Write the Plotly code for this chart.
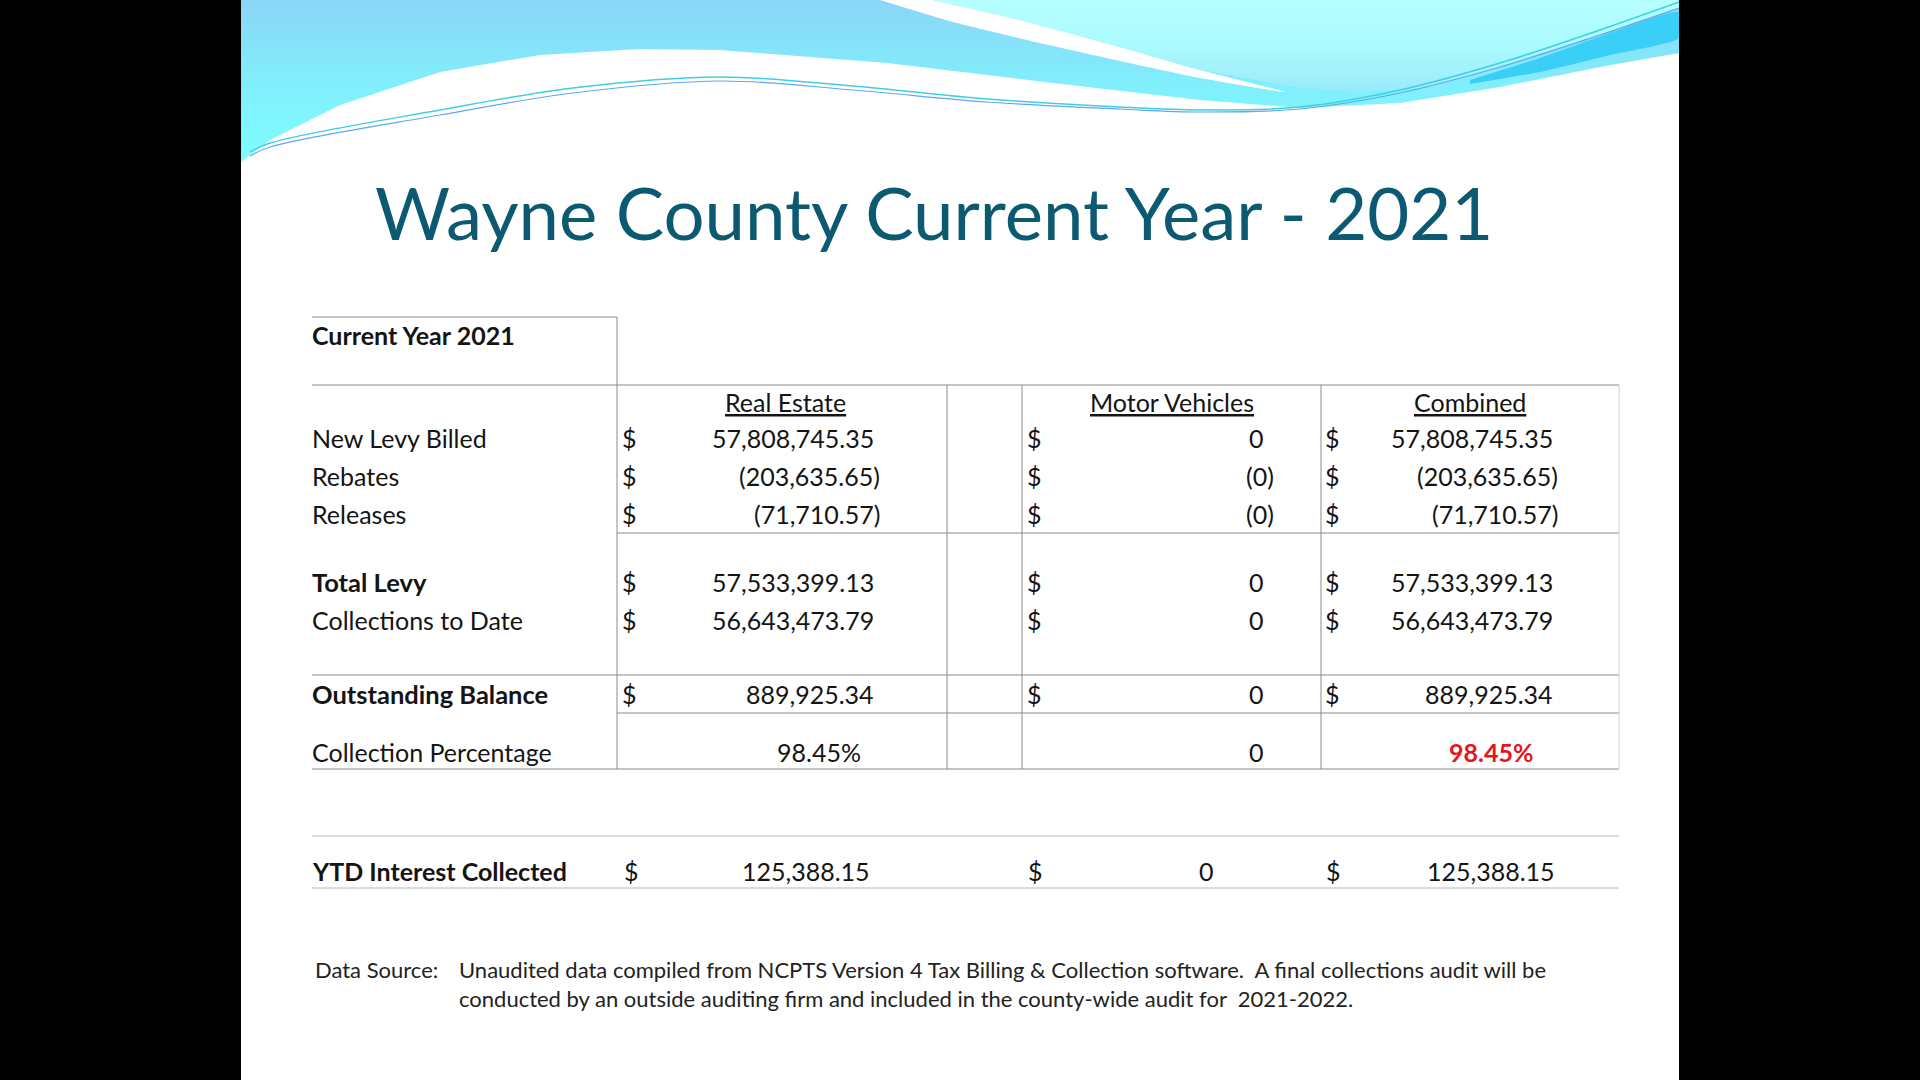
import plotly.graph_objects as go

# ---------------- data ----------------
title_text = "Wayne County Current Year - 2021"
corner_label = "Current Year 2021"
column_headers = ["Real Estate", "Motor Vehicles", "Combined"]
row_labels = ["New Levy Billed", "Rebates", "Releases", "Total Levy",
              "Collections to Date", "Outstanding Balance"]
row_bold = [False, False, False, True, False, True]
real_estate = [57808745.35, -203635.65, -71710.57, 57533399.13, 56643473.79, 889925.34]
motor_vehicles_text = ["0", "(0)", "(0)", "0", "0", "0"]
combined = [57808745.35, -203635.65, -71710.57, 57533399.13, 56643473.79, 889925.34]
pct_label = "Collection Percentage"
collection_pct = [98.45, 0, 98.45]          # real estate, motor vehicles, combined
ytd_label = "YTD Interest Collected"
ytd_interest = [125388.15, 0, 125388.15]    # real estate, motor vehicles, combined
source_label = "Data Source:"
source_lines = ["Unaudited data compiled from NCPTS Version 4 Tax Billing & Collection software.  A final collections audit will be",
                "conducted by an outside auditing firm and included in the county-wide audit for  2021-2022."]

# ---------------- layout constants (pixels) ----------------
SL, SR = 241, 1679           # slide left/right
FONT = "Lato"
TXT = "#141414"
GRID = "#8a8a8a"
row_y = [438, 476, 514, 582, 620, 694]
pct_y = 752
ytd_y = 871
header_y = 402
label_x = 310
dollar_x = [620, 1025, 1323]
num_right = [876, 1266, 1555]
paren_right = [882, 1276, 1560]


def money(v):
    if v < 0:
        return f"({abs(v):,.2f})"
    return f"{v:,.2f}"


fig = go.Figure()

# ---------------- decorative wave ----------------
main_x = [SL, SR, SR, 1600, 1500, 1400, 1300, 1200, 1053, 887, 720, 640, 540, 440, 340, 270, SL]
main_y = [0, 0, 53, 67, 87, 103, 108, 100, 83, 63, 50, 49, 55, 72, 105, 140, 162]
fig.add_trace(go.Scatter(x=main_x, y=main_y, fill="toself", mode="lines",
                         line=dict(width=0, color="#7ffcff"),
                         fillgradient=dict(type="vertical",
                                           colorscale=[[0, "#7ffdff"], [0.45, "#80f0fc"], [1, "#8bd5f7"]]),
                         hoverinfo="skip", showlegend=False))
swoosh_x = [880, 953, 1053, 1200, 1285, 1200, 1120, 1020, 933]
swoosh_y = [0, 22, 46, 78, 92, 70, 47, 20, 0]
fig.add_trace(go.Scatter(x=swoosh_x, y=swoosh_y, fill="toself", mode="lines",
                         line=dict(width=0, color="white", shape="spline", smoothing=0.6),
                         fillcolor="white", hoverinfo="skip", showlegend=False))
light_x = [933, 1020, 1120, 1200, 1300, 1367, 1433, 1500, 1567, 1633, SR, SR]
light_y = [0, 20, 47, 70, 88, 92, 87, 67, 46, 23, 8, 0]
fig.add_trace(go.Scatter(x=light_x, y=light_y, fill="toself", mode="lines",
                         line=dict(width=0, color="#b4ffff"),
                         fillgradient=dict(type="vertical",
                                           colorscale=[[0, "#9ae9fa"], [0.5, "#acfbff"], [1, "#b6ffff"]]),
                         hoverinfo="skip", showlegend=False))
band_x = [1470, 1540, 1610, SR, SR, 1610, 1540, 1470]
band_y = [80, 58, 33, 12, 38, 55, 72, 84]
fig.add_trace(go.Scatter(x=band_x, y=band_y, fill="toself", mode="lines",
                         line=dict(width=0, color="#3acff6", shape="spline", smoothing=0.5),
                         fillcolor="#3acff6", hoverinfo="skip", showlegend=False))
thin_x = [250, 270, 440, 573, 720, 853, 987, 1120, 1200, 1300, 1400, 1500, 1600, SR]
thin_y1 = [152, 143, 110, 88, 77, 86, 99, 107, 110, 107, 90, 63, 30, 2]
thin_y2 = [156, 147, 115, 93, 81, 90, 102, 109, 112, 109, 93, 67, 35, 8]
fig.add_trace(go.Scatter(x=thin_x, y=thin_y1, mode="lines",
                         line=dict(width=1.5, color="#3fd0e0", shape="spline"),
                         hoverinfo="skip", showlegend=False))
fig.add_trace(go.Scatter(x=thin_x, y=thin_y2, mode="lines",
                         line=dict(width=1.2, color="#5fa8ec", shape="spline"),
                         hoverinfo="skip", showlegend=False))

# ---------------- table lines ----------------
def hline(y, x0, x1, color=GRID, w=1):
    fig.add_shape(type="line", x0=x0, x1=x1, y0=y, y1=y, xref="x", yref="y",
                  line=dict(color=color, width=w))


def vline(x, y0, y1, color=GRID, w=1):
    fig.add_shape(type="line", x0=x, x1=x, y0=y0, y1=y1, xref="x", yref="y",
                  line=dict(color=color, width=w))


hline(317, 312, 617)
hline(385, 312, 1619)
hline(533, 617, 1619)
hline(675, 312, 1619)
hline(713, 617, 1619)
hline(769, 312, 1619)
hline(836, 312, 1619, color="#b8b8b8")
hline(888, 312, 1619, color="#b8b8b8")
vline(617, 317, 769)
vline(947, 385, 769)
vline(1022, 385, 769)
vline(1321, 385, 769)
vline(1619, 385, 769, color="#d0d0d0")


# ---------------- text ----------------
def txt(x, y, s, anchor="left", size=25, color=TXT, bold=False):
    if bold:
        s = f"<b>{s}</b>"
    fig.add_annotation(x=x, y=y, xref="x", yref="y", text=s, showarrow=False,
                       xanchor=anchor, yanchor="middle",
                       font=dict(family=FONT, size=size, color=color))


txt(934, 211, title_text, anchor="center", size=72.5, color="#0b5a71")
txt(label_x, 335, corner_label, bold=True, size=25)

header_cx = [785, 1172, 1470]
for cx, h in zip(header_cx, column_headers):
    txt(cx, header_y, f"<u>{h}</u>", anchor="center")

for i, lab in enumerate(row_labels):
    y = row_y[i]
    txt(label_x, y, lab, bold=row_bold[i], size=25.5 if row_bold[i] else 25)
    re_s = money(real_estate[i])
    cb_s = money(combined[i])
    mv_s = motor_vehicles_text[i]
    for k, s in enumerate([re_s, mv_s, cb_s]):
        txt(dollar_x[k], y, "$")
        xr = paren_right[k] if s.startswith("(") else num_right[k]
        txt(xr, y, s, anchor="right")

# collection percentage row
txt(label_x, pct_y, pct_label)
txt(863, pct_y, f"{collection_pct[0]:.2f}%", anchor="right")
txt(1266, pct_y, f"{collection_pct[1]:g}", anchor="right")
txt(1535, pct_y, f"{collection_pct[2]:.2f}%", anchor="right", bold=True, color="#e8141b")

# YTD interest row
txt(label_x, ytd_y, ytd_label, bold=True)
ytd_dollar_x = [622, 1026, 1324]
ytd_right = [872, 1216, 1557]
for k, v in enumerate(ytd_interest):
    txt(ytd_dollar_x[k], ytd_y, "$")
    s = f"{v:,.2f}" if v else "0"
    txt(ytd_right[k], ytd_y, s, anchor="right")

# data source
txt(313, 969, source_label, size=22, color="#222222")
txt(457, 969, source_lines[0], size=22, color="#222222")
txt(457, 998, source_lines[1], size=22, color="#222222")

fig.update_layout(
    width=1920, height=1080,
    margin=dict(l=SL, r=1920 - SR, t=0, b=0),
    paper_bgcolor="black", plot_bgcolor="white",
    xaxis=dict(range=[SL, SR], visible=False, fixedrange=True),
    yaxis=dict(range=[1080, 0], visible=False, fixedrange=True),
    showlegend=False,
)

fig.write_html("out.html", config={"displayModeBar": False},
               post_script="document.body.style.margin='0';")
